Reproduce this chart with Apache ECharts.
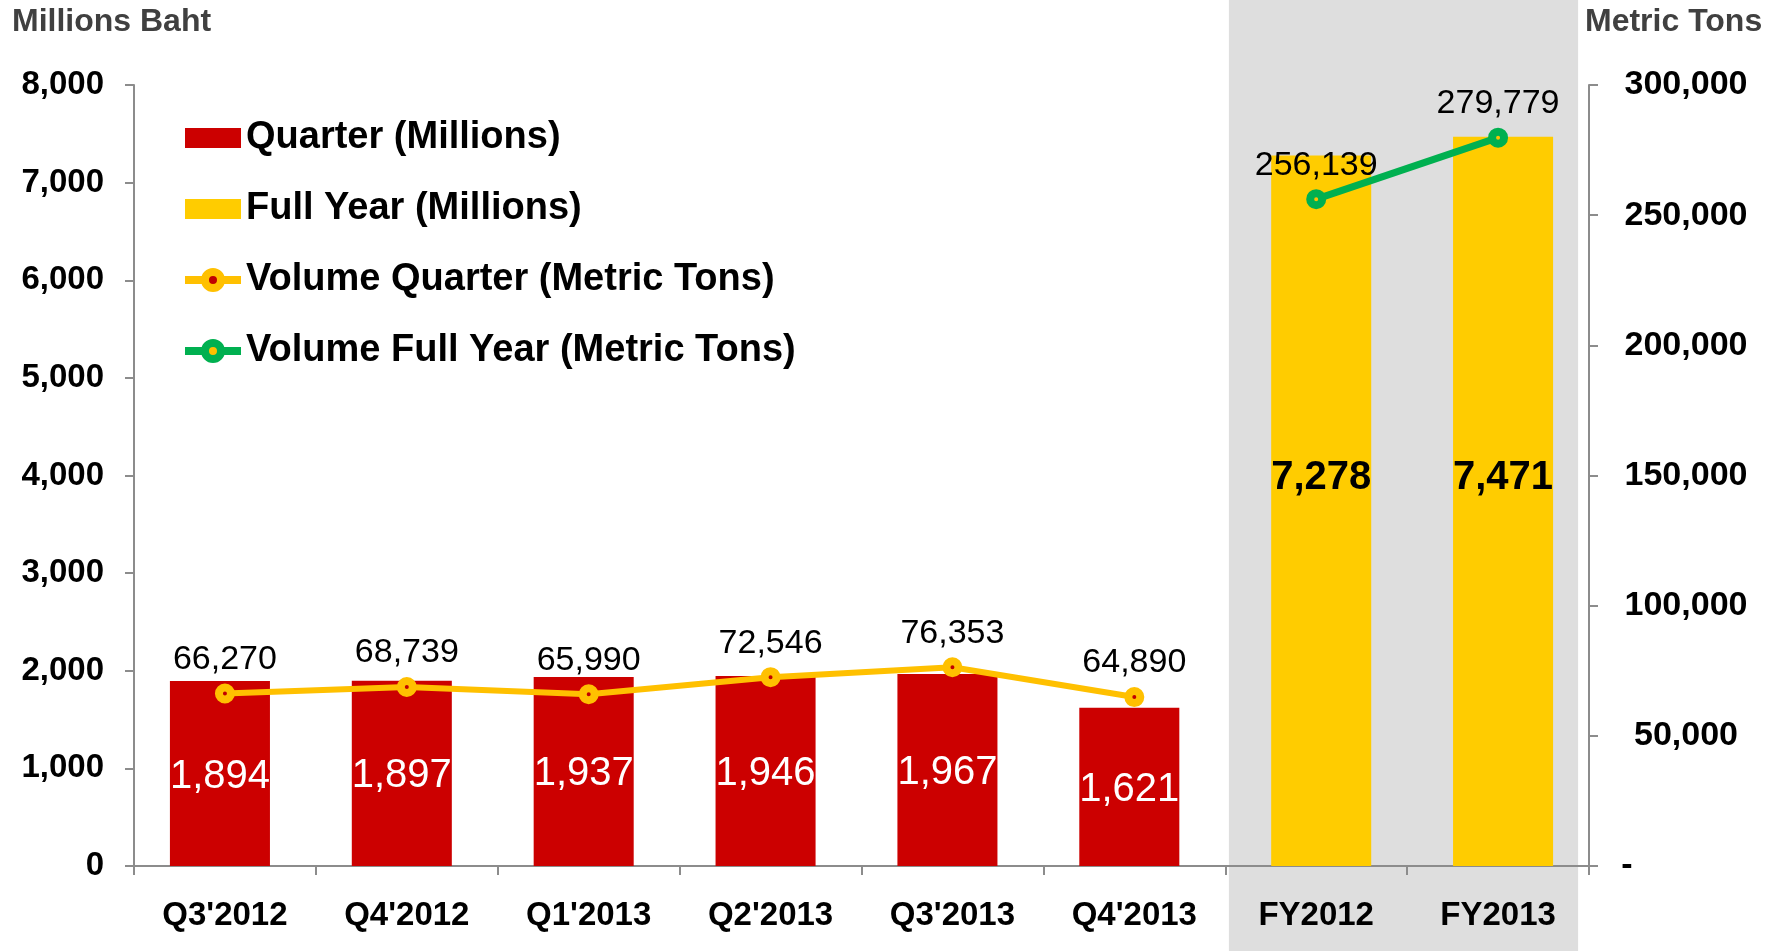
<!DOCTYPE html>
<html>
<head>
<meta charset="utf-8">
<script src="https://cdn.jsdelivr.net/npm/echarts@6/dist/echarts.min.js"></script>
<style>
  html, body { margin: 0; padding: 0; background: #fff; }
  #main { width: 1785px; height: 951px; }
</style>
</head>
<body>
<div id="main"></div>
<script>
// categories and values
const categories = ["Q3'2012", "Q4'2012", "Q1'2013", "Q2'2013", "Q3'2013", "Q4'2013", 'FY2012', 'FY2013'];
const quarterValues = [1894, 1897, 1937, 1946, 1967, 1621];
const fullYearValues = [7278, 7471];
const volumeQuarter = [66270, 68739, 65990, 72546, 76353, 64890];
const volumeFullYear = [256139, 279779];

const font = '"Liberation Sans", Arial, sans-serif';
const axisGray = '#8c8c8c';
const fmt = v => Number(v).toLocaleString('en-US');
// fill the slots a series does not use with '-'
const pad = (arr, before, after) => [].concat(Array(before).fill('-'), arr, Array(after).fill('-'));

const chart = echarts.init(document.getElementById('main'));

chart.setOption({
  animation: false,
  backgroundColor: '#fff',
  textStyle: { fontFamily: font },
  grid: { left: 134, right: 196, top: 85, bottom: 85 },
  legend: {
    orient: 'vertical',
    left: 176,
    top: 114,
    itemWidth: 56,
    itemHeight: 20,
    itemGap: 33,
    textStyle: { fontFamily: font, fontSize: 38, fontWeight: 'bold', color: '#000' },
    data: [
      { name: 'Quarter (Millions)', icon: 'rect' },
      { name: 'Full Year (Millions)', icon: 'rect' },
      {
        name: 'Volume Quarter (Metric Tons)',
        lineStyle: { width: 8, color: '#FFC000' },
        itemStyle: { color: '#C00000', borderColor: '#FFC000', borderWidth: 8 }
      },
      {
        name: 'Volume Full Year (Metric Tons)',
        lineStyle: { width: 8, color: '#00B050' },
        itemStyle: { color: '#FFC000', borderColor: '#00B050', borderWidth: 8 }
      }
    ]
  },
  xAxis: {
    type: 'category',
    data: categories,
    axisLine: { lineStyle: { color: axisGray, width: 2 } },
    axisTick: { show: true, length: 9, lineStyle: { color: axisGray, width: 2 } },
    axisLabel: { color: '#000', fontSize: 33, fontWeight: 'bold', margin: 33, fontFamily: font }
  },
  yAxis: [
    {
      type: 'value',
      min: 0,
      max: 8000,
      interval: 1000,
      splitLine: { show: false },
      axisLine: { show: true, lineStyle: { color: axisGray, width: 2 } },
      axisTick: { show: true, length: 9, lineStyle: { color: axisGray, width: 2 } },
      axisLabel: { formatter: fmt, color: '#000', fontSize: 33, fontWeight: 'bold', margin: 30, fontFamily: font }
    },
    {
      type: 'value',
      position: 'right',
      min: 0,
      max: 300000,
      interval: 50000,
      splitLine: { show: false },
      axisLine: { show: true, lineStyle: { color: axisGray, width: 2 } },
      axisTick: { show: true, length: 9, lineStyle: { color: axisGray, width: 2 } },
      axisLabel: {
        formatter: v => (v === 0 ? '{d|-}' : fmt(v)),
        align: 'center',
        margin: 97,
        color: '#000',
        fontSize: 34,
        fontWeight: 'bold',
        fontFamily: font,
        rich: { d: { fontSize: 34, fontWeight: 'bold', padding: [0, 118, 0, 0] } }
      }
    }
  ],
  series: [
    {
      name: 'Quarter (Millions)',
      type: 'bar',
      data: pad(quarterValues, 0, 2),
      barWidth: '55%',
      barGap: '-90%',
      itemStyle: { color: '#CC0000' },
      label: {
        show: true,
        position: 'inside',
        offset: [0, 3],
        color: '#fff',
        fontSize: 40,
        fontFamily: font,
        formatter: p => fmt(p.value)
      }
    },
    {
      name: 'Full Year (Millions)',
      type: 'bar',
      data: pad(fullYearValues, 6, 0),
      barWidth: '55%',
      barGap: '-90%',
      itemStyle: { color: '#FFCC00' },
      label: {
        show: true,
        position: 'insideBottom',
        distance: 368,
        color: '#000',
        fontSize: 40,
        fontWeight: 'bold',
        fontFamily: font,
        formatter: p => fmt(p.value)
      }
    },
    {
      name: 'Volume Quarter (Metric Tons)',
      type: 'line',
      yAxisIndex: 1,
      data: pad(volumeQuarter, 0, 2),
      symbol: 'circle',
      symbolSize: 12,
      itemStyle: { color: '#C00000', borderColor: '#FFC000', borderWidth: 8 },
      lineStyle: { color: '#FFC000', width: 6 },
      label: {
        show: true,
        position: 'top',
        distance: 7,
        color: '#000',
        fontSize: 34,
        fontFamily: font,
        formatter: p => fmt(p.value)
      },
      z: 5
    },
    {
      name: 'Volume Full Year (Metric Tons)',
      type: 'line',
      yAxisIndex: 1,
      data: pad(volumeFullYear, 6, 0),
      symbol: 'circle',
      symbolSize: 12,
      itemStyle: { color: '#FFC000', borderColor: '#00B050', borderWidth: 8 },
      lineStyle: { color: '#00B050', width: 7 },
      label: {
        show: true,
        position: 'top',
        distance: 7,
        color: '#000',
        fontSize: 34,
        fontFamily: font,
        formatter: p => fmt(p.value)
      },
      z: 5
    }
  ]
});

// grey band behind the two full-year columns
const c0 = chart.convertToPixel({ xAxisIndex: 0 }, categories[0]);
const c1 = chart.convertToPixel({ xAxisIndex: 0 }, categories[1]);
const catW = c1 - c0;
const bandL = chart.convertToPixel({ xAxisIndex: 0 }, 'FY2012') - catW * 0.48;
const bandR = chart.convertToPixel({ xAxisIndex: 0 }, 'FY2013') + catW * 0.44;

chart.setOption({
  graphic: [
    {
      type: 'rect',
      z: -1,
      silent: true,
      shape: { x: bandL, y: 0, width: bandR - bandL, height: 951 },
      style: { fill: '#DEDEDE' }
    },
    {
      type: 'text',
      left: 12,
      top: 6,
      style: { text: 'Millions Baht', font: 'bold 32px ' + font, fill: '#404040' }
    },
    {
      type: 'text',
      left: 1585,
      top: 6,
      style: { text: 'Metric Tons', font: 'bold 32px ' + font, fill: '#404040' }
    }
  ]
});
</script>
</body>
</html>
